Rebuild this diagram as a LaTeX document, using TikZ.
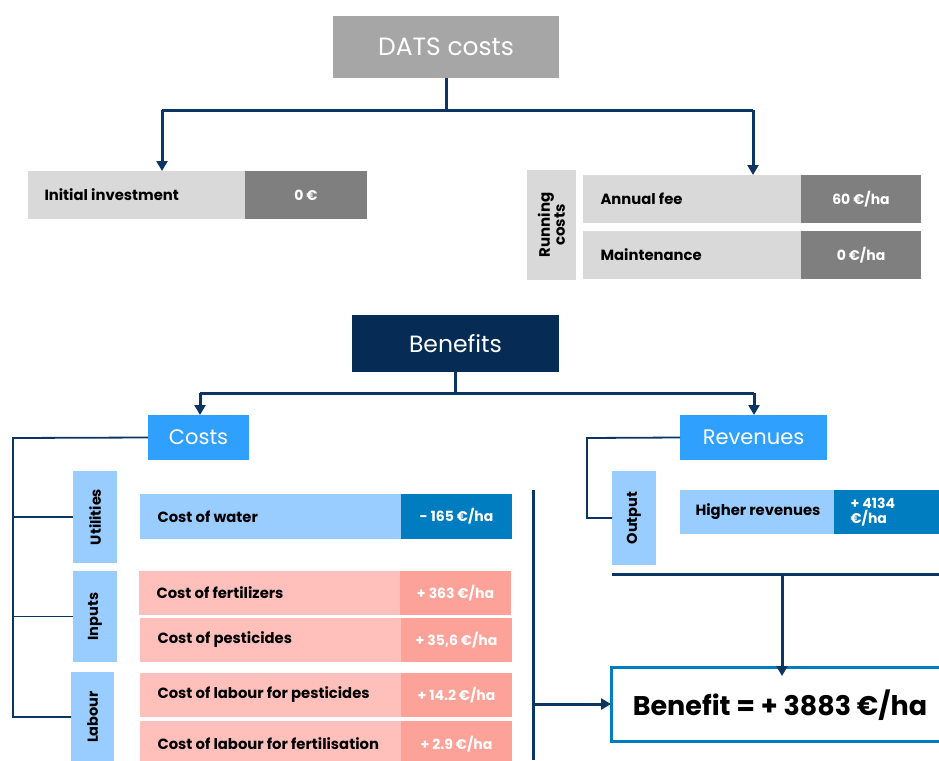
\documentclass[tikz,border=0pt]{standalone}
\usepackage{fontspec}
\setmainfont{Poppins}
\usetikzlibrary{arrows.meta}
\definecolor{datsgray}{HTML}{A6A6A6}
\definecolor{lightgray}{HTML}{D9D9D9}
\definecolor{valgray}{HTML}{7F7F7F}
\definecolor{navy}{HTML}{062C55}
\definecolor{linenavy}{HTML}{0B3562}
\definecolor{brightblue}{HTML}{30A0FF}
\definecolor{paleblue}{HTML}{99CCFF}
\definecolor{deepblue}{HTML}{007DC0}
\definecolor{palepink}{HTML}{FFC0BB}
\definecolor{deeppink}{HTML}{FCA298}
\tikzset{
  cell/.style={rectangle, inner sep=0pt, outer sep=0pt, anchor=north west, fill=#1},
  head/.style={rectangle, inner sep=0pt, outer sep=0pt, anchor=north west, fill=#1, text=white, font=\fontsize{21}{25}\selectfont},
  itemtxt/.style={anchor=west, font=\bfseries\fontsize{14.8}{17}\selectfont, text=black},
  itemval/.style={font=\bfseries\fontsize{14}{16}\selectfont, text=white},
  sidelab/.style={rotate=90, font=\bfseries\fontsize{14.5}{16}\selectfont, align=center, text=black},
  trunk/.style={draw=linenavy, line width=3pt},
  twig/.style={draw=linenavy, line width=1.8pt},
  arrowtip/.style={-{Triangle[length=10pt,width=11pt]}}
}
\begin{document}
\begin{tikzpicture}[x=1pt,y=-1pt]
\useasboundingbox (0,0) rectangle (939,760);
\clip (0,0) rectangle (939,760);

% ---- DATS costs ----
\node[head=datsgray, minimum width=226pt, minimum height=62pt, font=\fontsize{25}{29}\selectfont] (dats) at (333,16) {DATS costs};

\node[cell=lightgray, minimum width=217pt, minimum height=48pt] (inv) at (28,171) {};
\node[itemtxt] at ([xshift=13pt]inv.west) {Initial investment};
\node[cell=valgray, minimum width=122pt, minimum height=48pt, itemval] (invv) at (245,171) {0 €};

\node[cell=lightgray, minimum width=49pt, minimum height=110pt] (run) at (527,170) {};
\node[sidelab, font=\bfseries\fontsize{15}{15}\selectfont] at (run.center) {Running\\costs};

\node[cell=lightgray, minimum width=218pt, minimum height=48pt] (fee) at (583,175) {};
\node[itemtxt] at ([xshift=14pt]fee.west) {Annual fee};
\node[cell=valgray, minimum width=120pt, minimum height=48pt, itemval] (feev) at (801,175) {60 €/ha};

\node[cell=lightgray, minimum width=218pt, minimum height=48pt] (mnt) at (583,231) {};
\node[itemtxt] at ([xshift=14pt]mnt.west) {Maintenance};
\node[cell=valgray, minimum width=120pt, minimum height=48pt, itemval] (mntv) at (801,231) {0 €/ha};

\coordinate (ta) at (162,110);
\coordinate (tb) at (753,110);
\draw[trunk] (dats.south) -- (dats.south |- ta);
\draw[trunk] (ta) -- (tb);
\draw[trunk, arrowtip] (ta) -- (ta |- inv.north);
\draw[trunk, arrowtip] (tb) -- (tb |- fee.north);

% ---- Benefits ----
\node[head=navy, minimum width=207pt, minimum height=57pt, font=\fontsize{23.5}{27}\selectfont] (ben) at (352,315) {Benefits};
\node[head=brightblue, minimum width=101pt, minimum height=45pt] (costs) at (148,415) {Costs};
\node[head=brightblue, minimum width=147pt, minimum height=45pt] (rev) at (680,415) {Revenues};

\coordinate (ba) at (200,393);
\coordinate (bb) at (754,393);
\draw[trunk] (ben.south) -- (ben.south |- ba);
\draw[trunk] (ba) -- (bb);
\draw[trunk, arrowtip] (ba) -- (ba |- costs.north);
\draw[trunk, arrowtip] (bb) -- (bb |- rev.north);

% cost categories
\node[cell=paleblue, minimum width=44pt, minimum height=92pt] (util) at (73,471) {};
\node[sidelab] at (util.center) {Utilities};
\node[cell=paleblue, minimum width=44pt, minimum height=91pt] (inp) at (73,571) {};
\node[sidelab] at (inp.center) {Inputs};
\node[cell=paleblue, minimum width=43pt, minimum height=90pt] (lab) at (71,672) {};
\node[sidelab] at (lab.center) {Labour};

\coordinate (lx) at (13,438);
\draw[twig] (costs.west) -- (lx) -- (lx |- lab.west) -- (lab.west);
\draw[twig] (lx |- util.west) -- (util.west);
\draw[twig] (lx |- inp.west) -- (inp.west);

% cost items
\node[cell=paleblue, minimum width=261pt, minimum height=45pt] (wat) at (140,494) {};
\node[itemtxt] at ([xshift=14pt]wat.west) {Cost of water};
\node[cell=deepblue, minimum width=111pt, minimum height=45pt, itemval] (watv) at (401,494) {- 165 €/ha};

\node[cell=palepink, minimum width=261pt, minimum height=44pt] (fer) at (139,571) {};
\node[itemtxt] at ([xshift=14pt]fer.west) {Cost of fertilizers};
\node[cell=deeppink, minimum width=111pt, minimum height=44pt, itemval] (ferv) at (400,571) {+ 363 €/ha};

\node[cell=palepink, minimum width=261pt, minimum height=44pt] (pes) at (140,618) {};
\node[itemtxt] at ([xshift=14pt]pes.west) {Cost of pesticides};
\node[cell=deeppink, minimum width=111pt, minimum height=44pt, itemval] (pesv) at (401,618) {+ 35,6 €/ha};

\node[cell=palepink, minimum width=261pt, minimum height=44pt] (lp) at (140,673) {};
\node[itemtxt] at ([xshift=14pt]lp.west) {Cost of labour for pesticides};
\node[cell=deeppink, minimum width=111pt, minimum height=44pt, itemval] (lpv) at (401,673) {+ 14.2 €/ha};

\node[cell=palepink, minimum width=261pt, minimum height=44pt] (lf) at (140,721) {};
\node[itemtxt] at ([xshift=14pt,yshift=-1pt]lf.west) {Cost of labour for fertilisation};
\node[cell=deeppink, minimum width=111pt, minimum height=44pt] (lfv) at (401,721) {};
\node[itemval] at ([yshift=-1pt]lfv.center) {+ 2.9 €/ha};

% revenues
\node[cell=paleblue, minimum width=44pt, minimum height=94pt] (out) at (612,471) {};
\node[sidelab] at (out.center) {Output};
\coordinate (rx) at (587,438);
\draw[twig] (rev.west) -- (rx) -- (rx |- out.west) -- (out.west);

\node[cell=paleblue, minimum width=154pt, minimum height=44pt] (hr) at (680,490) {};
\node[itemtxt] at ([xshift=12pt]hr.west) {Higher revenues};
\node[cell=deepblue, minimum width=110pt, minimum height=44pt] (hrv) at (834,490) {};
\node[itemval, anchor=west, align=left, font=\bfseries\fontsize{14}{15}\selectfont] at ([xshift=13pt]hrv.west) {+ 4134\\€/ha};

% benefit total
\node[cell=white, draw=deepblue, line width=3pt, minimum width=340pt, minimum height=74pt] (tot) at (611,667) {};
\node[font=\bfseries\fontsize{27}{32}\selectfont] (totlab) at (780,705) {Benefit = + 3883 €/ha};

\coordinate (cv) at (533,490);
\coordinate (cb) at (533,760);
\draw[trunk] (cv) -- (cb);
\draw[trunk, arrowtip] (cv |- tot.west) -- (tot.west);

\coordinate (ra) at (612,574);
\coordinate (rb) at (939,574);
\coordinate (rc) at (782,574);
\draw[trunk] (ra) -- (rb);
\draw[trunk, arrowtip] (rc) -- ([yshift=-9pt]rc |- tot.north);
\end{tikzpicture}
\end{document}
